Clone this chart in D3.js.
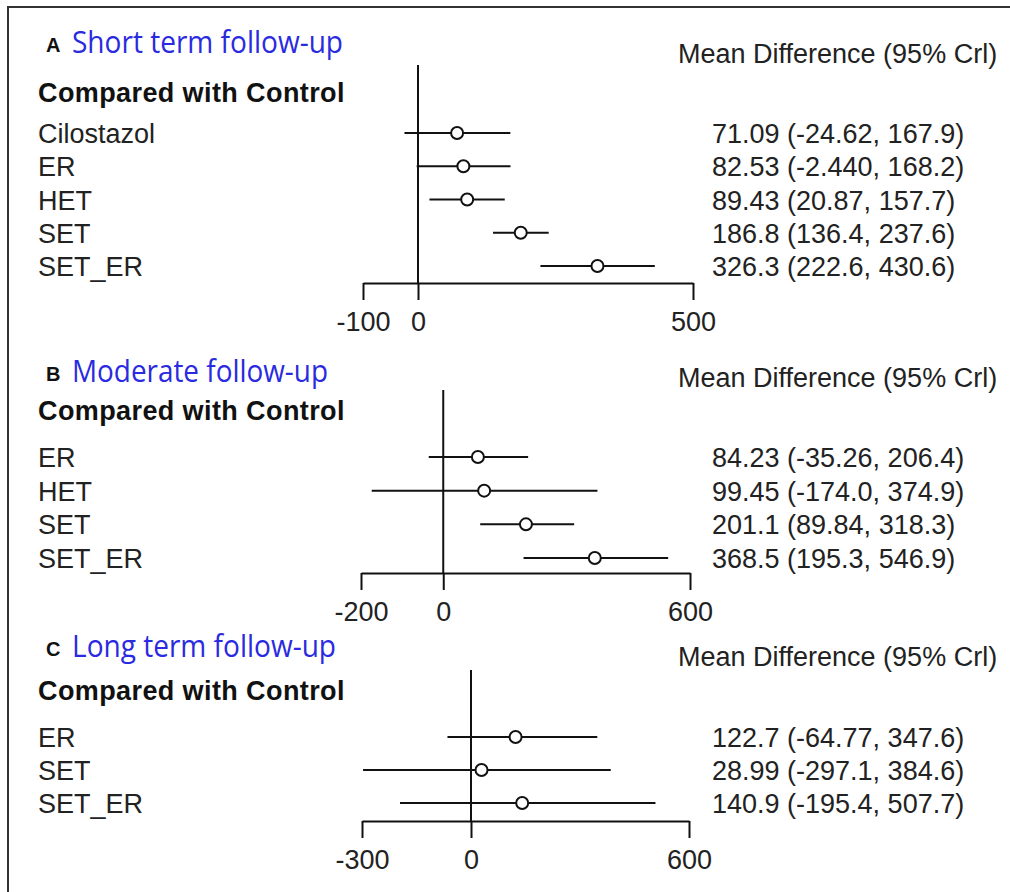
<!DOCTYPE html>
<html><head><meta charset="utf-8">
<script src="https://cdn.jsdelivr.net/npm/d3@7"></script>
<style>body{margin:0;background:#fff}svg{display:block}</style>
</head><body>
<svg id="c" width="1010" height="892"></svg>
<script>
// ---- data ----
const panelLetters = ["A", "B", "C"];
const panelTitles = ["Short term follow-up", "Moderate follow-up", "Long term follow-up"];
const catsA = ["Cilostazol", "ER", "HET", "SET", "SET_ER"];
const meanA = [71.09, 82.53, 89.43, 186.8, 326.3];
const lowA  = [-24.62, -2.440, 20.87, 136.4, 222.6];
const highA = [167.9, 168.2, 157.7, 237.6, 430.6];
const ticksA = [-100, 0, 500];

const catsB = ["ER", "HET", "SET", "SET_ER"];
const meanB = [84.23, 99.45, 201.1, 368.5];
const lowB  = [-35.26, -174.0, 89.84, 195.3];
const highB = [206.4, 374.9, 318.3, 546.9];
const ticksB = [-200, 0, 600];

const catsC = ["ER", "SET", "SET_ER"];
const meanC = [122.7, 28.99, 140.9];
const lowC  = [-64.77, -297.1, -195.4];
const highC = [347.6, 384.6, 507.7];
const ticksC = [-300, 0, 600];

const headerLeft = "Compared with Control";
const headerRight = "Mean Difference (95% Crl)";

// ---- layout ----
const layouts = [
  {titleY: 53, headY: 102, mdY: 63, zeroTop: 65, axisY: 283, xr: [363, 693], yr: [133, 266], titleW: 271},
  {titleY: 382, headY: 420, mdY: 387, zeroTop: 390, axisY: 573, xr: [361, 690], yr: [457, 558], titleW: 256},
  {titleY: 657, headY: 700, mdY: 666, zeroTop: 670, axisY: 821, xr: [362, 689], yr: [737, 803], titleW: 264}
];
const panels = [
  {cats: catsA, mean: meanA, low: lowA, high: highA, ticks: ticksA},
  {cats: catsB, mean: meanB, low: lowB, high: highB, ticks: ticksB},
  {cats: catsC, mean: meanC, low: lowC, high: highC, ticks: ticksC}
];

const svg = d3.select("#c");
const FONT = "Arial, 'Liberation Sans', sans-serif";
const TXT = "#222";
const FS = 27;

svg.append("rect").attr("x", 8).attr("y", 7).attr("width", 1100).attr("height", 1000)
  .attr("fill", "none").attr("stroke", "#333").attr("stroke-width", 2);

const fmt = v => v.toPrecision(4);

panels.forEach((p, i) => {
  const L = layouts[i];
  const g = svg.append("g");
  const x = d3.scaleLinear().domain([p.ticks[0], p.ticks[p.ticks.length - 1]]).range(L.xr);
  const y = d3.scalePoint().domain(p.cats).range(L.yr);

  // panel letter + title
  g.append("text").attr("x", 46).attr("y", L.titleY - 1).text(panelLetters[i])
    .attr("font-family", FONT).attr("font-weight", "bold").attr("font-size", 20).attr("fill", "#111");
  g.append("text").attr("x", 72).attr("y", L.titleY).text(panelTitles[i])
    .attr("font-family", "'Open Sans', 'Noto Sans', sans-serif").attr("font-size", 31)
    .attr("fill", "#2a2ae0").attr("textLength", L.titleW).attr("lengthAdjust", "spacingAndGlyphs");

  g.append("text").attr("x", 38).attr("y", L.headY).text(headerLeft)
    .attr("font-family", FONT).attr("font-weight", "bold").attr("font-size", FS)
    .attr("letter-spacing", 0.4).attr("fill", "#111");
  g.append("text").attr("x", 678).attr("y", L.mdY).text(headerRight)
    .attr("font-family", FONT).attr("font-size", FS).attr("fill", TXT);

  // zero line
  g.append("line").attr("x1", x(0)).attr("x2", x(0)).attr("y1", L.zeroTop).attr("y2", L.axisY)
    .attr("stroke", "#111").attr("stroke-width", 2);

  // axis
  const ax = g.append("g").attr("transform", `translate(0,${L.axisY})`)
    .call(d3.axisBottom(x).tickValues(p.ticks).tickSize(17).tickSizeOuter(0).tickPadding(12)
      .tickFormat(d3.format("d")));
  ax.select(".domain").attr("stroke", "#111").attr("stroke-width", 2);
  ax.selectAll(".tick line").attr("stroke", "#111").attr("stroke-width", 2);
  ax.selectAll(".tick text").attr("font-family", FONT).attr("font-size", FS).attr("fill", TXT)
    .text(d => String(d));

  const rows = p.cats.map((c, j) => ({c, m: p.mean[j], lo: p.low[j], hi: p.high[j]}));

  g.selectAll(".lab").data(rows).enter().append("text")
    .attr("x", 38).attr("y", d => y(d.c) + 10).text(d => d.c)
    .attr("font-family", FONT).attr("font-size", FS).attr("fill", TXT);

  g.selectAll(".ci").data(rows).enter().append("line")
    .attr("x1", d => x(d.lo)).attr("x2", d => x(d.hi))
    .attr("y1", d => y(d.c)).attr("y2", d => y(d.c))
    .attr("stroke", "#111").attr("stroke-width", 2);

  g.selectAll(".pt").data(rows).enter().append("circle")
    .attr("cx", d => x(d.m)).attr("cy", d => y(d.c)).attr("r", 6)
    .attr("fill", "#fff").attr("stroke", "#111").attr("stroke-width", 2);

  g.selectAll(".val").data(rows).enter().append("text")
    .attr("x", 712).attr("y", d => y(d.c) + 10)
    .text(d => `${fmt(d.m)} (${fmt(d.lo)}, ${fmt(d.hi)})`)
    .attr("font-family", FONT).attr("font-size", FS).attr("fill", TXT);
});
</script>
</body></html>
